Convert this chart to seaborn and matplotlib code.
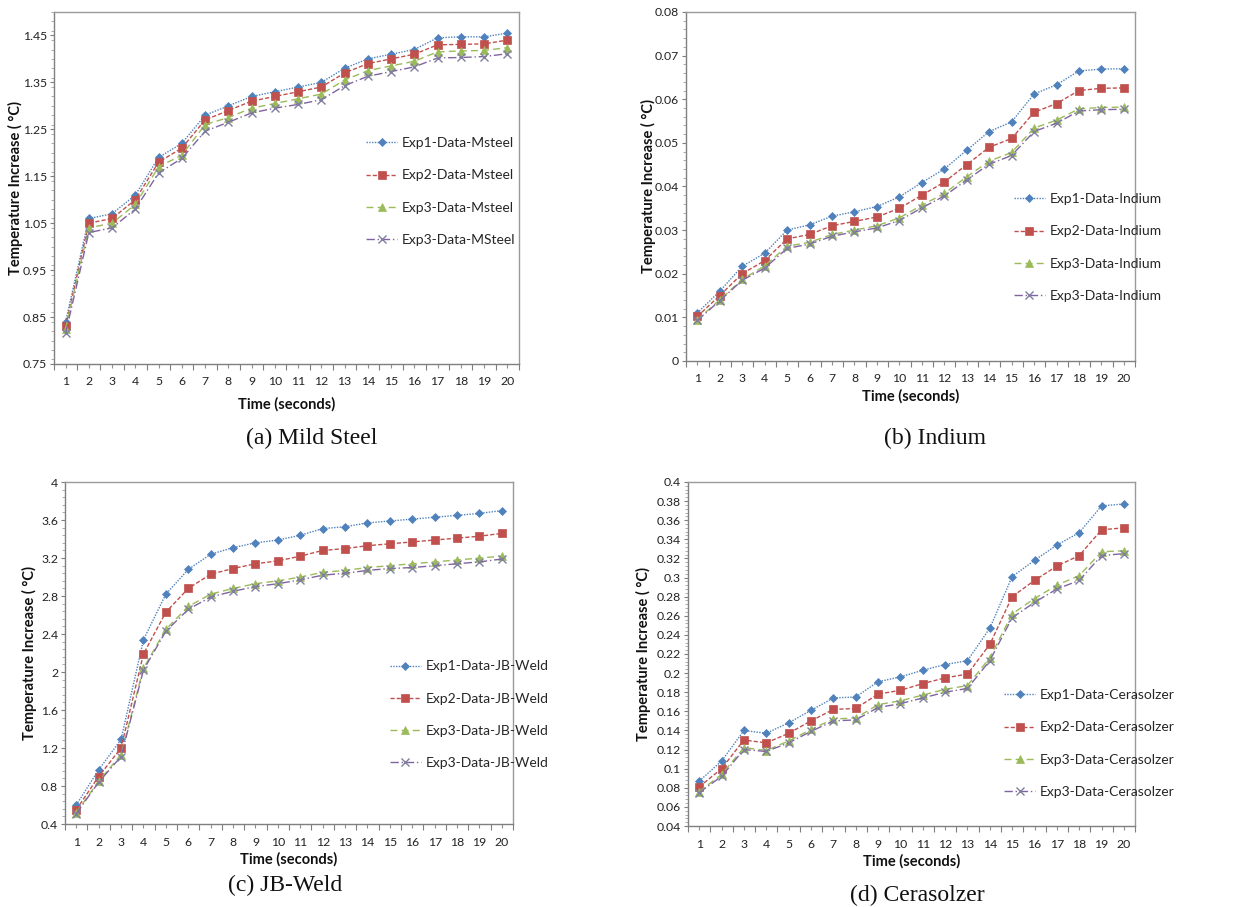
import numpy as np
import pandas as pd
import matplotlib
matplotlib.use("Agg")
import matplotlib.pyplot as plt
import seaborn as sns
from matplotlib.ticker import MultipleLocator, FixedLocator

# ---------------- data ----------------
time = list(range(1, 21))

steel_exp1 = [0.84, 1.06, 1.07, 1.11, 1.19, 1.22, 1.28, 1.30, 1.32, 1.33, 1.34, 1.35, 1.38, 1.40, 1.41, 1.42, 1.445, 1.447, 1.447, 1.455]
steel_exp2 = [0.83, 1.05, 1.06, 1.10, 1.18, 1.21, 1.27, 1.29, 1.31, 1.32, 1.33, 1.34, 1.37, 1.39, 1.40, 1.41, 1.43, 1.431, 1.432, 1.44]
steel_exp3 = [0.825, 1.04, 1.05, 1.09, 1.17, 1.195, 1.26, 1.275, 1.295, 1.305, 1.315, 1.325, 1.355, 1.375, 1.385, 1.395, 1.415, 1.417, 1.418, 1.424]
steel_exp4 = [0.815, 1.03, 1.04, 1.08, 1.157, 1.188, 1.246, 1.265, 1.285, 1.295, 1.303, 1.313, 1.343, 1.363, 1.373, 1.383, 1.402, 1.403, 1.405, 1.411]

indium_exp1 = [0.011, 0.016, 0.0217, 0.0247, 0.030, 0.0312, 0.0332, 0.0342, 0.0354, 0.0376, 0.0409, 0.0440, 0.0483, 0.0526, 0.0548, 0.0612, 0.0633, 0.0665, 0.0669, 0.0670]
indium_exp2 = [0.0102, 0.015, 0.020, 0.023, 0.028, 0.029, 0.031, 0.032, 0.033, 0.035, 0.038, 0.041, 0.045, 0.049, 0.051, 0.057, 0.059, 0.062, 0.0625, 0.0626]
indium_exp3 = [0.0095, 0.014, 0.0187, 0.0218, 0.0263, 0.0272, 0.029, 0.030, 0.031, 0.0328, 0.0357, 0.0384, 0.0422, 0.0458, 0.0478, 0.0534, 0.0552, 0.0578, 0.0581, 0.0582]
indium_exp4 = [0.0093, 0.0138, 0.0185, 0.0213, 0.0258, 0.0268, 0.0286, 0.0296, 0.0305, 0.0322, 0.0351, 0.0378, 0.0415, 0.0451, 0.0471, 0.0526, 0.0545, 0.0573, 0.0576, 0.0577]

jb_exp1 = [0.60, 0.97, 1.29, 2.34, 2.82, 3.08, 3.24, 3.31, 3.36, 3.39, 3.44, 3.51, 3.53, 3.57, 3.59, 3.61, 3.63, 3.65, 3.67, 3.70]
jb_exp2 = [0.55, 0.90, 1.20, 2.19, 2.63, 2.88, 3.03, 3.09, 3.14, 3.17, 3.22, 3.28, 3.30, 3.33, 3.35, 3.37, 3.39, 3.41, 3.43, 3.46]
jb_exp3 = [0.52, 0.85, 1.13, 2.04, 2.45, 2.69, 2.82, 2.88, 2.93, 2.96, 3.00, 3.05, 3.07, 3.10, 3.12, 3.14, 3.16, 3.18, 3.20, 3.22]
jb_exp4 = [0.51, 0.84, 1.11, 2.02, 2.43, 2.66, 2.79, 2.85, 2.90, 2.93, 2.97, 3.02, 3.04, 3.07, 3.09, 3.10, 3.12, 3.14, 3.16, 3.19]

cera_exp1 = [0.087, 0.108, 0.140, 0.137, 0.148, 0.161, 0.174, 0.175, 0.191, 0.196, 0.203, 0.209, 0.213, 0.247, 0.301, 0.318, 0.334, 0.347, 0.375, 0.377]
cera_exp2 = [0.081, 0.100, 0.130, 0.127, 0.137, 0.150, 0.162, 0.163, 0.178, 0.182, 0.189, 0.195, 0.199, 0.230, 0.280, 0.297, 0.312, 0.323, 0.350, 0.352]
cera_exp3 = [0.076, 0.094, 0.122, 0.119, 0.129, 0.141, 0.152, 0.153, 0.167, 0.171, 0.177, 0.183, 0.187, 0.216, 0.262, 0.278, 0.292, 0.302, 0.327, 0.328]
cera_exp4 = [0.075, 0.092, 0.120, 0.118, 0.127, 0.139, 0.150, 0.151, 0.164, 0.168, 0.174, 0.180, 0.184, 0.213, 0.258, 0.274, 0.288, 0.297, 0.323, 0.325]

steel_labels = ["Exp1-Data-Msteel", "Exp2-Data-Msteel", "Exp3-Data-Msteel", "Exp3-Data-MSteel"]
indium_labels = ["Exp1-Data-Indium", "Exp2-Data-Indium", "Exp3-Data-Indium", "Exp3-Data-Indium"]
jb_labels = ["Exp1-Data-JB-Weld", "Exp2-Data-JB-Weld", "Exp3-Data-JB-Weld", "Exp3-Data-JB-Weld"]
cera_labels = ["Exp1-Data-Cerasolzer", "Exp2-Data-Cerasolzer", "Exp3-Data-Cerasolzer", "Exp3-Data-Cerasolzer"]

captions = ["(a) Mild Steel", "(b) Indium", "(c) JB-Weld", "(d) Cerasolzer"]
xlabel = "Time (seconds)"
ylabel = "Temperature Increase ( °C)"

# ---------------- style ----------------
sns.set_theme(style="white")
plt.rcParams["font.family"] = ["Lato", "DejaVu Sans"]

colors = ["#4F81BD", "#C0504D", "#9BBB59", "#8064A2"]
markers = ["D", "s", "^", "x"]
msizes = [4.5, 6, 5.5, 6]
linestyles = [(0, (1, 1)), (0, (3, 1.5)), (0, (5, 3)), (0, (6, 2, 1, 2))]
mcolors = ["#4F81BD", "#C0504D", "#9BBB59", "#7f7f9f"]

fig = plt.figure(figsize=(12.46, 9.07), dpi=100)

panels = [
    dict(rect=[0.0433, 0.5987, 0.3732, 0.3881], series=[steel_exp1, steel_exp2, steel_exp3, steel_exp4],
         labels=steel_labels, ylim=(0.75, 1.50), yticks=np.arange(0.75, 1.46, 0.1), fmt="{:.2f}",
         minor=0.02, leg=(0.66, 0.49), cap=(0.25, 0.517), lpad=0),
    dict(rect=[0.5506, 0.6020, 0.3604, 0.3848], series=[indium_exp1, indium_exp2, indium_exp3, indium_exp4],
         labels=indium_labels, ylim=(0.0, 0.08), yticks=np.arange(0.0, 0.081, 0.01), fmt="{:g}",
         minor=0.002, leg=(0.718, 0.325), cap=(0.75, 0.517), lpad=-1),
    dict(rect=[0.0522, 0.0915, 0.3596, 0.3770], series=[jb_exp1, jb_exp2, jb_exp3, jb_exp4],
         labels=jb_labels, ylim=(0.4, 4.0), yticks=np.arange(0.4, 4.01, 0.4), fmt="{:g}",
         minor=0.08, leg=(0.713, 0.32), cap=(0.229, 0.024), lpad=2.5),
    dict(rect=[0.5522, 0.0893, 0.3588, 0.3793], series=[cera_exp1, cera_exp2, cera_exp3, cera_exp4],
         labels=cera_labels, ylim=(0.04, 0.40), yticks=np.arange(0.04, 0.401, 0.02), fmt="{:g}",
         minor=0.004, leg=(0.695, 0.24), cap=(0.736, 0.013), lpad=4.5),
]

for i, p in enumerate(panels):
    ax = fig.add_axes(p["rect"])
    for k, vals in enumerate(p["series"]):
        df = pd.DataFrame({"t": time, "v": vals})
        sns.lineplot(data=df, x="t", y="v", ax=ax, color=colors[k], linewidth=1.0,
                     marker=markers[k], markersize=msizes[k],
                     markerfacecolor=mcolors[k], markeredgecolor=mcolors[k],
                     markeredgewidth=1.0 if markers[k] == "x" else 0.5,
                     label=p["labels"][k])
        ax.lines[-1].set_linestyle(linestyles[k])
    ax.set_xlim(0.5, 20.5)
    ax.set_ylim(*p["ylim"])
    ax.set_xticks(time)
    ax.set_xticklabels([str(t) for t in time])
    ax.xaxis.set_minor_locator(FixedLocator(np.arange(0.5, 20.6, 1.0)))
    ax.set_yticks(p["yticks"])
    ax.set_yticklabels([p["fmt"].format(round(v, 4)) for v in p["yticks"]])
    ax.yaxis.set_minor_locator(MultipleLocator(p["minor"]))
    ax.tick_params(axis="x", which="major", length=3, width=0.8, color="#8f8f8f", direction="out",
                   bottom=True, labelsize=8.8, pad=6, labelcolor="#222222")
    ax.tick_params(axis="x", which="minor", length=4, width=0.8, color="#7f7f7f", direction="out", bottom=True)
    ax.tick_params(axis="y", which="major", length=3, width=0.8, color="#7f7f7f", labelsize=8.8, pad=2,
                   labelcolor="#222222", direction="out", left=True)
    ax.tick_params(axis="y", which="minor", length=2, width=0.6, color="#9f9f9f", direction="out", left=True)
    for side in ["top", "right"]:
        ax.spines[side].set_color("#9a9a9a")
        ax.spines[side].set_linewidth(1.0)
    for side in ["left", "bottom"]:
        ax.spines[side].set_color("#7f7f7f")
        ax.spines[side].set_linewidth(1.0)
    ax.set_xlabel(xlabel, fontsize=10.5, fontweight="bold", labelpad=3 if i != 0 else 7, color="#111111")
    ax.set_ylabel(ylabel, fontsize=10.5, fontweight="bold", labelpad=p["lpad"], color="#111111")
    ax.grid(False)
    leg = ax.legend(loc="center left", bbox_to_anchor=p["leg"], frameon=False, fontsize=10,
                    labelspacing=1.45, handlelength=2.2, handletextpad=0.35, borderaxespad=0)
    fig.text(p["cap"][0], p["cap"][1], captions[i], ha="center", va="center",
             fontsize=17, family="Liberation Serif", color="#111111")

fig.savefig("out.png", dpi=100, facecolor="white")
